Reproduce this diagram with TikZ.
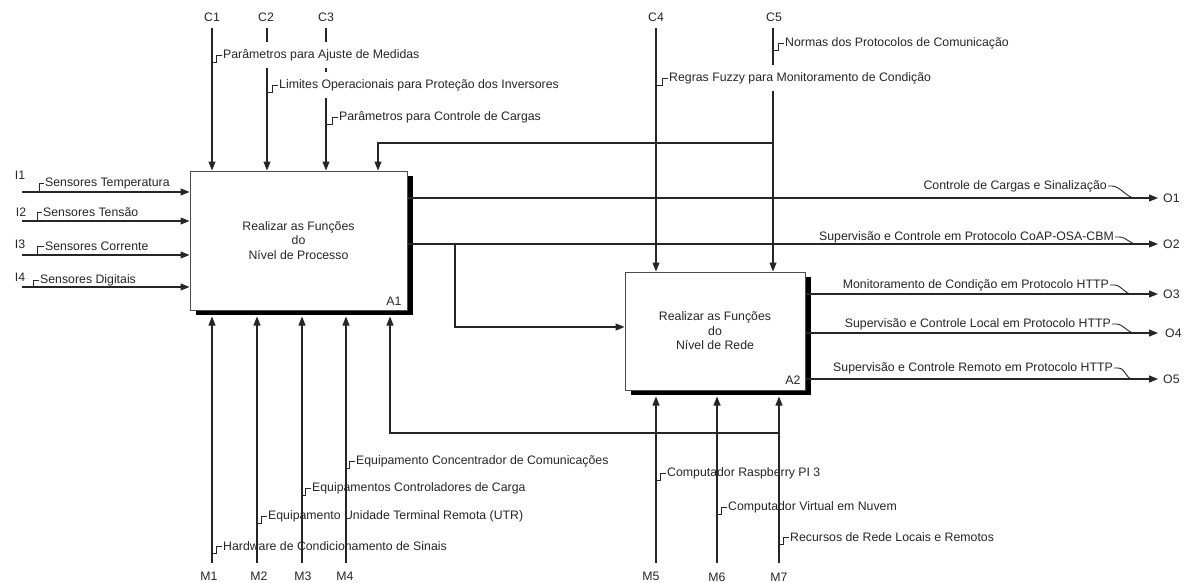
\documentclass[tikz,border=0pt]{standalone}
\usepackage{fontspec}
\setmainfont{Liberation Sans}
\usetikzlibrary{arrows.meta,shadows}

\begin{document}
\begin{tikzpicture}[x=1pt,y=-1pt,
  line/.style={draw=black!85, line width=1.1pt},
  arr/.style={line, -{Triangle[length=9pt,width=7pt]}},
  hook/.style={draw=black!85, line width=0.9pt},
  txt/.style={font=\fontsize{12.3}{14.5}\selectfont, text=black!85, inner sep=1pt},
  lab/.style={txt, anchor=west},
  toplab/.style={lab, fill=white, minimum height=26pt},
  outlab/.style={txt, anchor=east},
  fnbox/.style={txt, draw=black!70, line width=1pt, fill=white, align=center,
    drop shadow={shadow xshift=6pt, shadow yshift=-5pt, fill=black, opacity=1}},
]
\fill[white] (0,0) rectangle (1191,582);
\useasboundingbox (0,0) rectangle (1191,582);

% activity boxes
\node[fnbox, minimum width=217pt, minimum height=139pt] (A1) at (298.5,240.5)
  {Realizar as Funções\\do\\Nível de Processo};
\node[fnbox, minimum width=180pt, minimum height=118pt] (A2) at (715,331)
  {Realizar as Funções\\do\\Nível de Rede};
\node[txt] (A1id) at (394,301) {A1};
\node[txt] (A2id) at (793,380) {A2};
\coordinate (A1s) at ([yshift=-6pt]A1.south);
\coordinate (A2s) at ([yshift=-6pt]A2.south);

% controls
\coordinate (c1) at (212,28);
\coordinate (c2) at (267,28);
\coordinate (c3) at (326,28);
\coordinate (c4) at (656,28);
\coordinate (c5) at (773,28);
\node[txt] (C1) at (212,17) {C1};
\node[txt] (C2) at (266,17) {C2};
\node[txt] (C3) at (326,17) {C3};
\node[txt] (C4) at (656,17) {C4};
\node[txt] (C5) at (774,17) {C5};
\draw[arr] (c1) -- (c1 |- A1.north);
\draw[arr] (c2) -- (c2 |- A1.north);
\draw[arr] (c3) -- (c3 |- A1.north);
\draw[arr] (c4) -- (c4 |- A2.north);
\draw[arr] (c5) -- (c5 |- A2.north);
\coordinate (f1) at (773,143);
\coordinate (f2) at (378,143);
\draw[arr] (f1) -- (f2) -- (f2 |- A1.north);

% inputs
\coordinate (i1) at (22,192);
\coordinate (i2) at (22,221);
\coordinate (i3) at (22,255);
\coordinate (i4) at (22,287);
\node[txt] (I1) at (20,175) {I1};
\node[txt] (I2) at (21,212) {I2};
\node[txt] (I3) at (20,244) {I3};
\node[txt] (I4) at (20,277) {I4};
\draw[arr] (i1) -- (i1 -| A1.west);
\draw[arr] (i2) -- (i2 -| A1.west);
\draw[arr] (i3) -- (i3 -| A1.west);
\draw[arr] (i4) -- (i4 -| A1.west);

% outputs
\coordinate (o1) at (1158,198);
\coordinate (o2) at (1158,244);
\coordinate (o3) at (1158,294);
\coordinate (o4) at (1158,333);
\coordinate (o5) at (1158,379);
\draw[arr] (A1.east |- o1) -- (o1);
\draw[arr] (A1.east |- o2) -- (o2);
\draw[arr] (A2.east |- o3) -- (o3);
\draw[arr] (A2.east |- o4) -- (o4);
\draw[arr] (A2.east |- o5) -- (o5);
\node[lab] (O1) at (1162,198) {O1};
\node[lab] (O2) at (1162,244) {O2};
\node[lab] (O3) at (1162,294) {O3};
\node[lab] (O4) at (1164,333) {O4};
\node[lab] (O5) at (1162,379) {O5};

% A1 output feeding A2
\coordinate (b1) at (455,244);
\coordinate (b2) at (455,327);
\draw[arr] (b1) -- (b2) -- (b2 -| A2.west);

% mechanisms
\coordinate (m1) at (212,563);
\coordinate (m2) at (257,563);
\coordinate (m3) at (302,563);
\coordinate (m4) at (346,563);
\coordinate (m5) at (656,563);
\coordinate (m6) at (717,563);
\coordinate (m7) at (779,563);
\draw[arr] (m1) -- (m1 |- A1s);
\draw[arr] (m2) -- (m2 |- A1s);
\draw[arr] (m3) -- (m3 |- A1s);
\draw[arr] (m4) -- (m4 |- A1s);
\draw[arr] (m5) -- (m5 |- A2s);
\draw[arr] (m6) -- (m6 |- A2s);
\draw[arr] (m7) -- (m7 |- A2s);
\coordinate (g1) at (779,433);
\coordinate (g2) at (390,433);
\draw[arr] (g1) -- (g2) -- (g2 |- A1s);
\node[txt] (M1) at (209,576) {M1};
\node[txt] (M2) at (259,576) {M2};
\node[txt] (M3) at (303,576) {M3};
\node[txt] (M4) at (345,576) {M4};
\node[txt] (M5) at (651,576) {M5};
\node[txt] (M6) at (717,577) {M6};
\node[txt] (M7) at (779,577) {M7};

% control labels (white backing breaks the lines they cross)
\node[toplab] (Lc1) at (222,55) {Parâmetros para Ajuste de Medidas};
\node[toplab] (Lc2) at (278,85) {Limites Operacionais para Proteção dos Inversores};
\node[toplab] (Lc3) at (338,117) {Parâmetros para Controle de Cargas};
\node[toplab] (Lc4) at (668,78) {Regras Fuzzy para Monitoramento de Condição};
\node[toplab] (Lc5) at (784,43) {Normas dos Protocolos de Comunicação};
\foreach \n in {Lc1,Lc2,Lc3,Lc4,Lc5}
  \draw[hook] (\n.west) -- ++(-6,0) -- ++(0,7) -- ++(-5,0);

% input labels
\node[lab] (Li1) at (44,183) {Sensores Temperatura};
\node[lab] (Li2) at (42,212) {Sensores Tensão};
\node[lab] (Li3) at (44,246) {Sensores Corrente};
\node[lab] (Li4) at (39,280) {Sensores Digitais};
\draw[hook] (Li1.west) -- ++(-5,0) -- ++(0,9);
\draw[hook] (Li2.west) -- ++(-5,0) -- ++(0,9) -- ++(-5,0);
\draw[hook] (Li3.west) -- ++(-7,0) -- ++(0,9);
\draw[hook] (Li4.west) -- ++(-6,0) -- ++(0,7);

% output labels
\coordinate (j1) at (1135,198);
\coordinate (j2) at (1137,244);
\coordinate (j3) at (1132,294);
\coordinate (j4) at (1135,333);
\coordinate (j5) at (1133,379);
\node[outlab] (Lo1) at (1108,186) {Controle de Cargas e Sinalização};
\node[outlab] (Lo2) at (1115,237) {Supervisão e Controle em Protocolo CoAP-OSA-CBM};
\node[outlab] (Lo3) at (1110,285) {Monitoramento de Condição em Protocolo HTTP};
\node[outlab] (Lo4) at (1112,324) {Supervisão e Controle Local em Protocolo HTTP};
\node[outlab] (Lo5) at (1114,368) {Supervisão e Controle Remoto em Protocolo HTTP};
\foreach \n/\j in {Lo1/j1,Lo2/j2,Lo3/j3,Lo4/j4,Lo5/j5}
  \draw[hook] (\n.east) -- ++(4,0) .. controls +(8,0) and +(-8,0) .. (\j);

% mechanism labels
\node[lab] (Lm1) at (222,546) {Hardware de Condicionamento de Sinais};
\node[lab] (Lm2) at (267,516) {Equipamento Unidade Terminal Remota (UTR)};
\node[lab] (Lm3) at (311,488) {Equipamentos Controladores de Carga};
\node[lab] (Lm4) at (355,461) {Equipamento Concentrador de Comunicações};
\node[lab] (Lm5) at (666,473) {Computador Raspberry PI 3};
\node[lab] (Lm6) at (727,507) {Computador Virtual em Nuvem};
\node[lab] (Lm7) at (789,537) {Recursos de Rede Locais e Remotos};
\foreach \n in {Lm1,Lm2,Lm3,Lm4,Lm5,Lm6,Lm7}
  \draw[hook] (\n.west) -- ++(-6,0) -- ++(0,7) -- ++(-4,0);
\end{tikzpicture}
\end{document}
